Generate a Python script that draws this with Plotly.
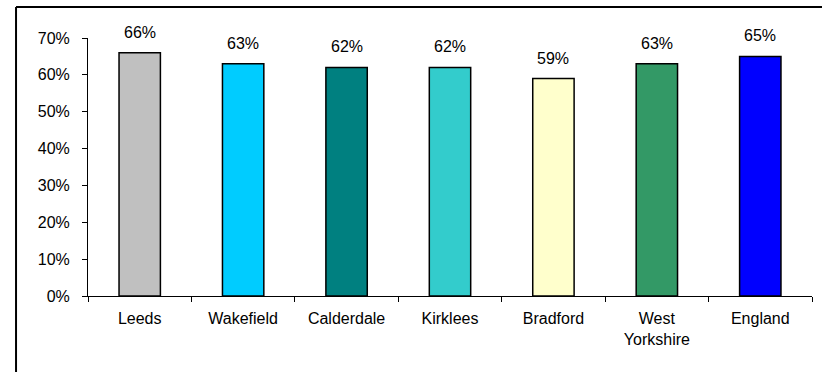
import plotly.graph_objects as go

categories = ["Leeds", "Wakefield", "Calderdale", "Kirklees", "Bradford", "West<br>Yorkshire", "England"]
values = [0.66, 0.63, 0.62, 0.62, 0.59, 0.63, 0.65]
colors = ["#C0C0C0", "#00CCFF", "#008080", "#33CCCC", "#FFFFCC", "#339966", "#0000FF"]
y_ticks = [0, 0.1, 0.2, 0.3, 0.4, 0.5, 0.6, 0.7]
y_tick_labels = ["0%", "10%", "20%", "30%", "40%", "50%", "60%", "70%"]

FONT = "Liberation Sans, Arial, sans-serif"
FS = 16

fig = go.Figure()
fig.add_trace(go.Bar(
    x=categories, y=values,
    marker=dict(color=colors, line=dict(color="#000000", width=1.5)),
    width=0.4,
    hoverinfo="skip",
))

for c, v in zip(categories, values):
    fig.add_annotation(x=c, y=v, text=f"{round(v*100)}%", showarrow=False,
                       yanchor="bottom", yshift=10,
                       font=dict(family=FONT, size=FS, color="#000000"))

# outer chart border (top and left visible)
fig.add_shape(type="line", xref="paper", yref="paper", x0=-0.0994, x1=1.05, y0=1.1202, y1=1.1202,
              line=dict(color="#000000", width=2))
fig.add_shape(type="line", xref="paper", yref="paper", x0=-0.0994, x1=-0.0994, y0=-0.35, y1=1.1202,
              line=dict(color="#000000", width=2))

fig.update_layout(
    width=822, height=372,
    margin=dict(l=88, r=10, t=38, b=76),
    paper_bgcolor="#FFFFFF", plot_bgcolor="#FFFFFF",
    font=dict(family=FONT, size=FS, color="#000000"),
    showlegend=False,
    bargap=0.6,
)
fig.update_xaxes(
    showline=True, linecolor="#000000", linewidth=1,
    ticks="outside", ticklen=5, tickcolor="#000000", tickson="boundaries",
    showgrid=False, ticklabelstandoff=8,
    tickfont=dict(family=FONT, size=FS, color="#000000"),
)
fig.update_yaxes(
    range=[0, 0.7], tickvals=y_ticks, ticktext=y_tick_labels,
    showline=True, linecolor="#000000", linewidth=1,
    ticks="outside", ticklen=5, tickcolor="#000000",
    showgrid=False, zeroline=False, ticklabelstandoff=9,
    tickfont=dict(family=FONT, size=FS, color="#000000"),
)

fig.write_html("out.html")
